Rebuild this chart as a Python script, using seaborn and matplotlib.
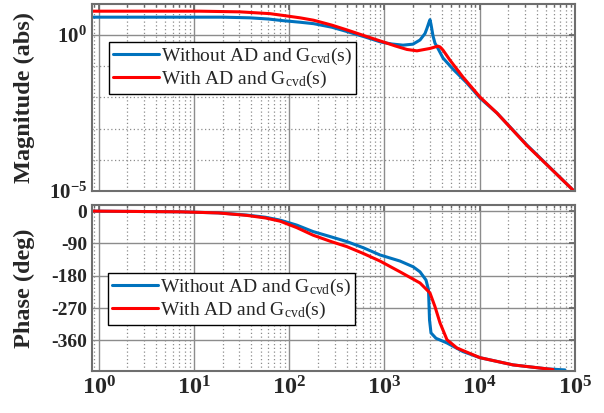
import numpy as np
import pandas as pd
import matplotlib
matplotlib.use("Agg")
import matplotlib.pyplot as plt
import matplotlib.ticker as ticker
import seaborn as sns

# series
names = ["Without AD and $\\mathrm{G}_{\\mathrm{cvd}}$(s)", "With AD and $\\mathrm{G}_{\\mathrm{cvd}}$(s)"]
colors = ["#0072BD", "#FF0000"]

f_mag_blue = [0.85, 20, 38.7, 60, 86, 130, 180, 280, 410, 620, 920, 1200, 1565, 1991, 2360, 2663,
              2800, 2934, 3004, 3080, 3230, 3390, 3557, 4114, 5240, 7350, 10070, 15180, 31330, 97500]
mag_blue = [3.78, 3.78, 3.60, 3.3, 2.92, 2.6, 2.34, 1.8, 1.29, 0.88, 0.60, 0.52, 0.478, 0.515, 0.70, 1.13,
            1.7, 2.6, 3.14, 2.2, 0.95, 0.55, 0.43, 0.185, 0.0813, 0.029, 0.00957, 0.00316, 2.98e-4, 1e-5]

f_mag_red = [0.85, 11.6, 30.4, 62.8, 86, 130, 180, 280, 410, 620, 920, 1300, 1722, 2193, 3004,
             3645, 3826, 4114, 4870, 6670, 10070, 15180, 31330, 97500]
mag_red = [5.88, 5.88, 5.6, 4.9, 4.3, 3.6, 3.02, 2.1, 1.45, 0.95, 0.64, 0.45, 0.348, 0.314, 0.375,
           0.444, 0.42, 0.331, 0.158, 0.045, 0.0103, 0.00316, 2.87e-4, 1e-5]

f_ph_blue = [0.85, 7.13, 18, 36, 56, 80, 120, 178, 270, 404, 600, 897, 1455, 2000, 2360, 2729,
             2898, 2970, 3078, 3474, 4530, 6670, 10070, 22340, 50800, 78500]
ph_blue = [0, -2, -5, -11, -17, -25, -39, -57, -71, -85, -102, -122, -139, -155, -169, -192,
           -219, -303, -339, -354, -367, -391, -408, -428, -439, -442]

f_ph_red = [0.85, 7.13, 18, 36, 56, 80, 120, 178, 270, 404, 600, 897, 1455, 2360, 3004, 3390,
            3826, 4530, 5770, 10070, 22340, 58770]
ph_red = [0, -2, -5, -12, -19, -28, -46, -67, -84, -99, -118, -139, -169, -200, -228, -266,
          -311, -358, -381, -408, -428, -441]

x_ticks = [1, 10, 100, 1000, 10000, 100000]
x_labels = [r"$\mathbf{10^{%d}}$" % k for k in range(6)]
mag_ticks = [1e-5, 1]
mag_labels = [r"$\mathbf{10^{-5}}$", r"$\mathbf{10^{0}}$"]
ph_ticks = [0, -90, -180, -270, -360]

mag_df = pd.concat([
    pd.DataFrame({"f": f_mag_blue, "val": mag_blue, "series": names[0]}),
    pd.DataFrame({"f": f_mag_red, "val": mag_red, "series": names[1]}),
])
ph_df = pd.concat([
    pd.DataFrame({"f": f_ph_blue, "val": ph_blue, "series": names[0]}),
    pd.DataFrame({"f": f_ph_red, "val": ph_red, "series": names[1]}),
])

sns.set_theme(style="white")
plt.rcParams['font.family'] = ['Liberation Serif', 'DejaVu Serif']
plt.rcParams['mathtext.fontset'] = 'custom'
plt.rcParams['mathtext.rm'] = 'Liberation Serif'
plt.rcParams['mathtext.bf'] = 'Liberation Serif:bold'
plt.rcParams['mathtext.it'] = 'Liberation Serif:italic'

fig = plt.figure(figsize=(6.04, 4.13), dpi=100)
ax1 = fig.add_axes([92 / 604, 1 - 191 / 413, 483 / 604, 187 / 413])
ax2 = fig.add_axes([92 / 604, 1 - 371 / 413, 483 / 604, 166 / 413])

palette = dict(zip(names, colors))
sns.lineplot(data=mag_df, x="f", y="val", hue="series", palette=palette, sort=False,
             lw=2.2, ax=ax1)
sns.lineplot(data=ph_df, x="f", y="val", hue="series", palette=palette, sort=False,
             lw=2.2, ax=ax2)

for ax in (ax1, ax2):
    ax.set_xscale("log")
    ax.set_xlim(0.85, 1e5)
    ax.set_xticks(x_ticks)
    ax.xaxis.set_minor_locator(ticker.LogLocator(base=10, subs=np.arange(2, 10), numticks=30))
    ax.xaxis.set_minor_formatter(ticker.NullFormatter())
    ax.grid(True, which="major", color="#8c8c8c", lw=1.0, ls="-")
    ax.grid(True, which="minor", axis="x", color="#8c8c8c", lw=0.9, ls=(0, (1, 2)))
    ax.tick_params(which="both", direction="in", color="#666666", top=True, right=True)
    ax.tick_params(which="major", length=4)
    ax.tick_params(which="minor", length=2)
    for s in ax.spines.values():
        s.set_color("#6e6e6e")
        s.set_linewidth(1.5)
    ax.set_xlabel("")

ax1.set_yscale("log")
ax1.set_ylim(1e-5, 10)
ax1.set_yticks(mag_ticks)
ax1.set_yticklabels(mag_labels, fontsize=15)
ax1.set_yticks([1e-4, 1e-3, 1e-2, 1e-1], minor=True)
ax1.yaxis.set_minor_formatter(ticker.NullFormatter())
ax1.grid(True, which="minor", axis="y", color="#8c8c8c", lw=0.9, ls=(0, (1, 2)))
ax1.set_xticklabels([])
ax1.set_ylabel("Magnitude (abs)", fontsize=17.5, fontweight="bold")
ax1.yaxis.set_label_coords(-0.118, 0.5)

ax2.set_ylim(-445, 17)
ax2.set_yticks(ph_ticks)
ax2.set_yticklabels([str(t) for t in ph_ticks], fontsize=14, fontweight="bold")
ax2.set_xticklabels(x_labels, fontsize=17.5)
ax2.set_ylabel("Phase (deg)", fontsize=17.5, fontweight="bold")
ax2.yaxis.set_label_coords(-0.118, 0.5)

for ax, anchor in ((ax1, (0.035, 0.797)), (ax2, (0.033, 0.59))):
    leg = ax.legend(loc="upper left", bbox_to_anchor=anchor, fontsize=14, frameon=True,
                    fancybox=False, edgecolor="black", framealpha=1, borderaxespad=0,
                    handlelength=2.4, handletextpad=0.1, labelspacing=0.1, borderpad=0.2,
                    title=None)
    leg.get_frame().set_linewidth(1.0)
    for line in leg.get_lines():
        line.set_linewidth(2.2)

fig.savefig("out.png", dpi=100)
